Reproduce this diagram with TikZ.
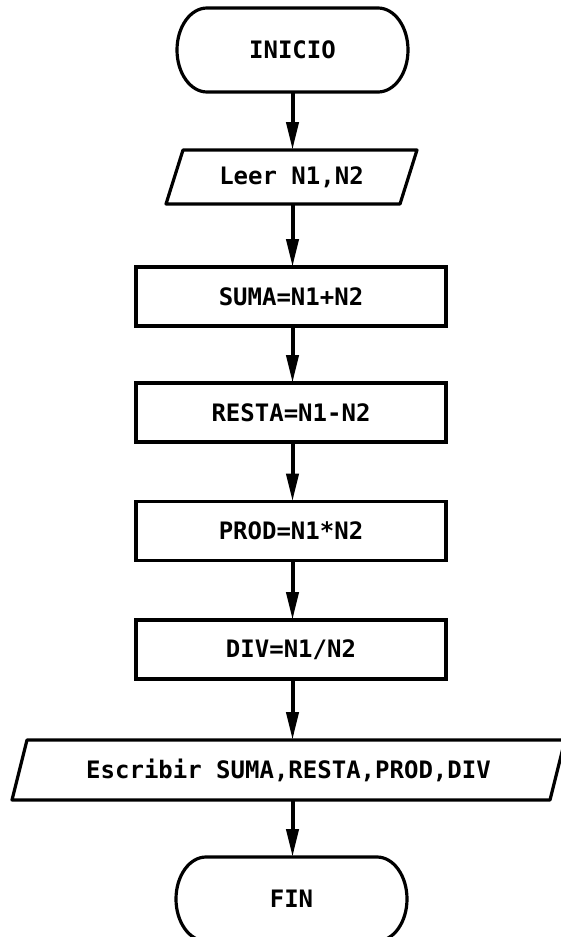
\documentclass[tikz,border=0pt]{standalone}
\usepackage{fontspec}
\setmonofont{DejaVu Sans Mono}
\usetikzlibrary{arrows.meta}
\begin{document}
\begin{tikzpicture}[x=1pt,y=1pt,
  lbl/.style={font=\ttfamily\bfseries\fontsize{24}{28}\selectfont, inner sep=0pt, outer sep=0pt},
  procbox/.style={lbl, draw, line width=3.2pt, minimum width=310pt, minimum height=59pt},
  termframe/.style={lbl, minimum width=231pt, minimum height=84pt},
  ioframe/.style={lbl, minimum height=#1},
  shapeline/.style={line width=3.2pt, line join=round},
  flow/.style={line width=4pt, -{Triangle[length=28pt,width=12pt]}}
]
\useasboundingbox (0,0) rectangle (560,-937);

% nodes
\node[termframe] (inicio) at (292.5,-50) {INICIO};
\node[ioframe=54pt, minimum width=234pt] (leer) at (291.5,-177) {Leer N1,N2};
\node[procbox] (suma) at (291,-296.5) {SUMA=N1+N2};
\node[procbox] (resta) at (291,-412.5) {RESTA=N1-N2};
\node[procbox] (prod) at (291,-531) {PROD=N1*N2};
\node[procbox] (div) at (291,-649.5) {DIV=N1/N2};
\node[ioframe=60pt, minimum width=538pt] (escr) at (288.5,-770) {Escribir SUMA,RESTA,PROD,DIV};
\node[termframe] (fin) at (291.5,-899) {FIN};

% terminal outlines
\draw[shapeline] ([xshift=30pt]inicio.north west) -- ([xshift=-30pt]inicio.north east)
  arc[start angle=90,end angle=-90,x radius=30pt,y radius=42pt]
  -- ([xshift=30pt]inicio.south west)
  arc[start angle=270,end angle=90,x radius=30pt,y radius=42pt] -- cycle;
\draw[shapeline] ([xshift=30pt]fin.north west) -- ([xshift=-30pt]fin.north east)
  arc[start angle=90,end angle=-90,x radius=30pt,y radius=42pt]
  -- ([xshift=30pt]fin.south west)
  arc[start angle=270,end angle=90,x radius=30pt,y radius=42pt] -- cycle;

% input/output outlines
\draw[shapeline] ([xshift=8.5pt]leer.north west) -- ([xshift=8.5pt]leer.north east)
  -- ([xshift=-8.5pt]leer.south east) -- ([xshift=-8.5pt]leer.south west) -- cycle;
\draw[shapeline] ([xshift=7.5pt]escr.north west) -- ([xshift=7.5pt]escr.north east)
  -- ([xshift=-7.5pt]escr.south east) -- ([xshift=-7.5pt]escr.south west) -- cycle;

% connectors
\draw[flow] (inicio.south) -- (inicio.south |- leer.north);
\draw[flow] (inicio.south |- leer.south) -- (inicio.south |- suma.north);
\draw[flow] (inicio.south |- suma.south) -- (inicio.south |- resta.north);
\draw[flow] (inicio.south |- resta.south) -- (inicio.south |- prod.north);
\draw[flow] (inicio.south |- prod.south) -- (inicio.south |- div.north);
\draw[flow] (inicio.south |- div.south) -- (inicio.south |- escr.north);
\draw[flow] (inicio.south |- escr.south) -- (inicio.south |- fin.north);
\end{tikzpicture}
\end{document}
